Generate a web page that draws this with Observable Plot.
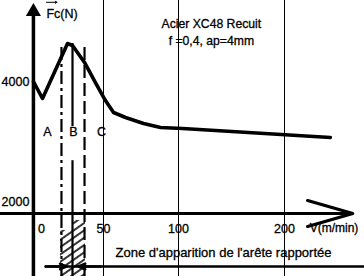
<!DOCTYPE html>
<html><head><meta charset="utf-8">
<script src="https://cdn.jsdelivr.net/npm/d3@7"></script>
<script src="https://cdn.jsdelivr.net/npm/@observablehq/plot@0.6"></script>
<style>body{margin:0;background:#fff;} svg{display:block;}</style>
</head><body><div id="chart"></div>
<script>
// Cutting force Fc (N) vs cutting speed V (m/min)
const speed = [-6.5, 0.8, 21, 25, 34.7, 43.5, 51.3, 56.7, 64.7, 76.7, 88, 103.8, 243];
const force = [4000, 3717, 4633, 4600, 4317, 3983, 3683, 3483, 3400, 3300, 3233, 3217, 3067];
const xTicks = [0, 50, 100, 200];
const yTicks = [2000, 4000];
const zoneNames = ["A", "B", "C"];
const zoneNameX = [4.8, 25.8, 48.4];
const boundaryX = [16.1, 25, 34.7];
const titleLines = ["Acier XC48 Recuit", "f =0,4, ap=4mm"];
const xLabel = "V(m/min)";
const yLabel = "Fc(N)";
const zoneText = "Zone d'apparition de l'arête rapportée";

const curve = speed.map((v, i) => ({v, f: force[i]}));
const font = "'Liberation Sans', Arial, sans-serif";
const txt = {fill: "#000", stroke: "#000", strokeWidth: 0.3};

const plot = Plot.plot({
  width: 364, height: 276,
  marginTop: 0, marginRight: 0, marginBottom: 0, marginLeft: 0,
  style: {fontFamily: font, fontSize: "12.5px", background: "#fff", color: "#000"},
  x: {type: "linear", domain: [-33, 0, 50, 100, 200, 275], range: [0, 41, 103, 178, 284, 364], axis: null},
  y: {type: "linear", domain: [750, 5350], range: [276, 0], axis: null},
  marks: [
    // hatched zone
    Plot.rect([0], {x1: 15.3, x2: 25, y1: 750, y2: 1517, fill: "url(#hatch)"}),
    Plot.rect([0], {x1: 25, x2: 35.5, y1: 750, y2: 1683, fill: "url(#hatch)"}),
    // axes
    Plot.ruleX([-6.5], {y1: 750, y2: 5180, stroke: "#000", strokeWidth: 3.5}),
    Plot.dot([0], {x: () => -6.5, y: () => 5165, symbol: "triangle", r: 5.6, fill: "#000", stroke: "none"}),
    Plot.arrow([0], {x1: -33, x2: 264, y1: 1800, y2: 1800, stroke: "#000", strokeWidth: 3.2, headLength: 22, headAngle: 32}),
    // tick marks and labels
    Plot.tickX(xTicks.filter(d => d > 0), {x: d => d, y1: 1800, y2: 1890, stroke: "#000", strokeWidth: 1}),
    Plot.text(xTicks, {x: d => d, y: () => 1550, text: d => String(d), fontSize: 12.5, ...txt}),
    Plot.text(yTicks, {x: () => -6.5, y: d => d, text: d => String(d), textAnchor: "end", dx: -4, fontSize: 12.5, ...txt}),
    // zone boundary lines
    Plot.ruleX([boundaryX[0]], {y1: 750, y2: 4633, stroke: "#000", strokeWidth: 2.2, strokeDasharray: "13,4,3,4"}),
    Plot.ruleX([boundaryX[1]], {y1: 3250, y2: 4633, stroke: "#000", strokeWidth: 2.2}),
    Plot.ruleX([boundaryX[1]], {y1: 750, y2: 2680, stroke: "#000", strokeWidth: 2.2}),
    Plot.ruleX([boundaryX[2]], {y1: 750, y2: 4633, stroke: "#000", strokeWidth: 2.2, strokeDasharray: "13,5"}),
    Plot.text(zoneNames, {x: (d, i) => zoneNameX[i], y: () => 3160, text: d => d, fontSize: 12.5, ...txt}),
    // force curve
    Plot.line(curve, {x: "v", y: "f", stroke: "#000", strokeWidth: 3.6, strokeLinejoin: "round", strokeLinecap: "round"}),
    // zone arrows
    Plot.ruleY([917], {x1: 3.2, x2: 275, stroke: "#000", strokeWidth: 2.5}),
    Plot.arrow([0], {x1: 3.2, x2: 20.2, y1: 917, y2: 917, stroke: "#000", strokeWidth: 2.5, headLength: 17, headAngle: 45}),
    Plot.arrow([0], {x1: 47.6, x2: 29.8, y1: 917, y2: 917, stroke: "#000", strokeWidth: 2.5, headLength: 17, headAngle: 45}),
    // texts
    Plot.text([zoneText], {x: () => 58, y: () => 1150, text: d => d, textAnchor: "start", fontSize: 13, ...txt}),
    Plot.text([xLabel], {x: () => 223.6, y: () => 1550, text: d => d, textAnchor: "start", fontSize: 12, ...txt}),
    Plot.text([yLabel], {x: () => 4, y: () => 5133, text: d => d, textAnchor: "start", fontSize: 12.5, ...txt}),
    Plot.arrow([0], {x1: 4, x2: 12.5, y1: 5320, y2: 5320, stroke: "#000", strokeWidth: 1, headLength: 3}),
    Plot.text(titleLines, {x: () => 131, y: (d, i) => [4950, 4667][i], text: d => d, fontSize: 12.2, ...txt})
  ]
});

const svg = d3.select(plot);
const defs = svg.insert("defs", ":first-child");
const pat = defs.append("pattern").attr("id", "hatch").attr("patternUnits", "userSpaceOnUse")
  .attr("width", 10).attr("height", 6).attr("patternTransform", "rotate(-35)");
pat.append("line").attr("x1", 0).attr("y1", 3).attr("x2", 10).attr("y2", 3).attr("stroke", "#000").attr("stroke-width", 1.6);

document.getElementById("chart").append(plot);
</script>
</body></html>
